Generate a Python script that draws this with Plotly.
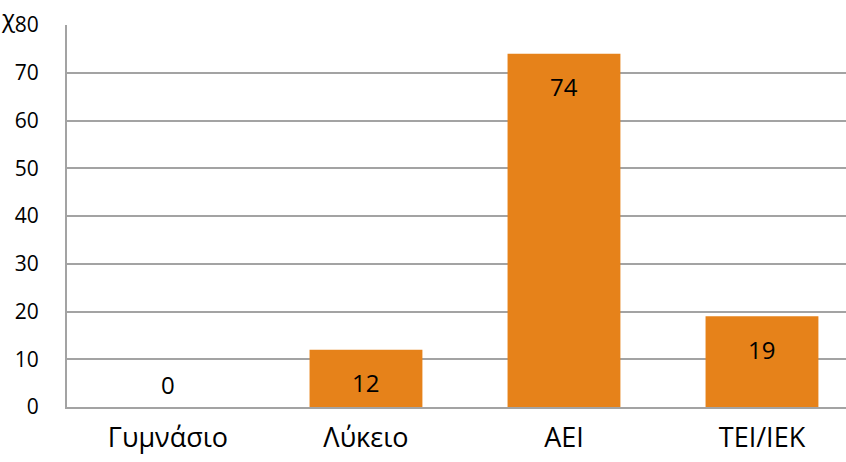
import plotly.graph_objects as go

categories = ["Γυμνάσιο", "Λύκειο", "ΑΕΙ", "ΤΕΙ/ΙΕΚ"]
values = [0, 12, 74, 19]
y_ticks = [0, 10, 20, 30, 40, 50, 60, 70, 80]

BAR_COLOR = "#E6821A"
GRID_COLOR = "#A3A3A3"
FONT = "Open Sans"

W, H = 846, 462
ML, MR, MT, MB = 67, 0, 25, 55
PW, PH = W - ML - MR, H - MT - MB

fig = go.Figure()
fig.add_trace(go.Bar(
    x=list(range(len(categories))),
    y=values,
    width=0.57,
    marker=dict(color=BAR_COLOR, line=dict(width=0)),
    hoverinfo="skip",
))

# value labels just below the top of each bar (above the baseline for zero)
for i, v in enumerate(values):
    fig.add_annotation(
        x=i, y=v, xref="x", yref="y",
        text=str(v), showarrow=False,
        yshift=-33 if v > 0 else 23,
        font=dict(family=FONT, size=24, color="#000000"),
    )

# partial heading glyph at the top-left corner
fig.add_annotation(
    xref="paper", yref="paper",
    x=(0 - ML) / PW, y=1 + (MT - 0) / PH,
    text="χ", showarrow=False, xanchor="left", yanchor="top",
    borderpad=0,
    font=dict(family=FONT, size=24, color="#000000"),
)

fig.update_layout(
    width=W, height=H,
    margin=dict(l=ML, r=MR, t=MT, b=MB),
    paper_bgcolor="white", plot_bgcolor="white",
    showlegend=False,
)

fig.update_xaxes(
    range=[-0.51, -0.51 + PW / 198],
    tickmode="array",
    tickvals=list(range(len(categories))),
    ticktext=categories,
    tickfont=dict(family=FONT, size=27, color="#000000"),
    showgrid=False,
    showline=True, linecolor=GRID_COLOR, linewidth=2,
    ticks="", ticklabelstandoff=6,
    zeroline=False,
)
fig.update_yaxes(
    range=[0, 80],
    tickmode="array",
    tickvals=y_ticks,
    ticktext=[str(t) for t in y_ticks],
    tickfont=dict(family=FONT, size=21, color="#000000"),
    showgrid=True, gridcolor=GRID_COLOR, gridwidth=2,
    showline=True, linecolor=GRID_COLOR, linewidth=2,
    zeroline=False,
    ticks="", ticklabelstandoff=22,
)

fig.write_html("out.html")
